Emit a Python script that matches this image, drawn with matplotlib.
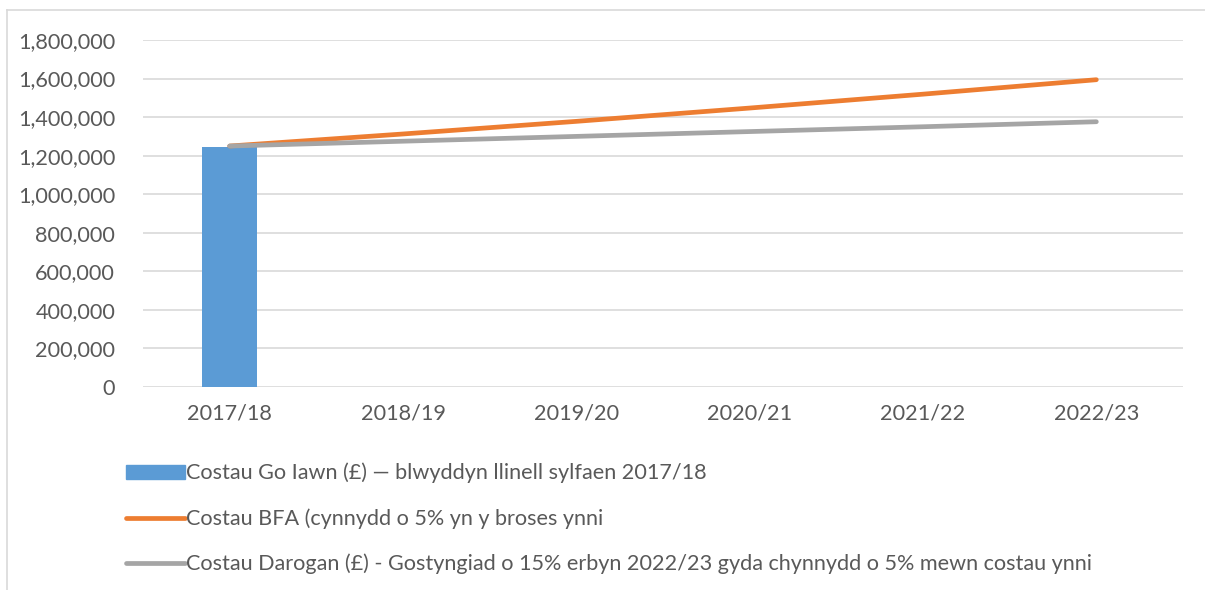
import matplotlib
matplotlib.use("Agg")
import matplotlib.pyplot as plt
from matplotlib.patches import Rectangle
from matplotlib.lines import Line2D
from matplotlib.ticker import FuncFormatter

categories = ["2017/18", "2018/19", "2019/20", "2020/21", "2021/22", "2022/23"]
actual = [1245000]
bfa = [1250000, 1312500, 1378000, 1447000, 1519000, 1594000]
forecast = [1250000, 1275000, 1300000, 1325000, 1350000, 1376000]
yticks = [0, 200000, 400000, 600000, 800000, 1000000, 1200000, 1400000, 1600000, 1800000]
labels = ["Costau Go Iawn (£) — blwyddyn llinell sylfaen 2017/18",
          "Costau BFA (cynnydd o 5% yn y broses ynni",
          "Costau Darogan (£) - Gostyngiad o 15% erbyn 2022/23 gyda chynnydd o 5% mewn costau ynni"]

plt.rcParams['font.family'] = ['Lato', 'DejaVu Sans']
txt = '#595959'
fs = 15.6
W, H = 1205, 590
fig = plt.figure(figsize=(W/100, H/100), dpi=100)
ax = fig.add_axes([143/W, 1-387/H, (1183-143)/W, (387-40)/H])

x = list(range(len(categories)))
ax.bar([0], actual, width=0.32, color='#5B9BD5', zorder=2)
ax.plot(x, bfa, color='#ED7D31', lw=3.4, solid_capstyle='round', zorder=3)
ax.plot(x, forecast, color='#A5A5A5', lw=3.4, solid_capstyle='round', zorder=4)

ax.set_xlim(-0.5, 5.5)
ax.set_ylim(0, 1800000)
ax.set_yticks(yticks)
ax.yaxis.set_major_formatter(FuncFormatter(lambda v, p: f"{int(v):,}"))
ax.set_xticks(x)
ax.set_xticklabels(categories)
ax.grid(axis='y', color='#D9D9D9', lw=1.2, zorder=0)
for s in ax.spines.values():
    s.set_visible(False)
ax.tick_params(axis='both', length=0, labelsize=fs, colors=txt)
ax.tick_params(axis='x', pad=12)
ax.tick_params(axis='y', pad=20)

# legend
handles = [Rectangle((0, 0), 1, 1, color='#5B9BD5'),
           Line2D([], [], color='#ED7D31', lw=3.4, solid_capstyle='round'),
           Line2D([], [], color='#A5A5A5', lw=3.4, solid_capstyle='round')]
leg = fig.legend(handles, labels, loc='upper left', bbox_to_anchor=(115/W, 1-452/H),
                 frameon=False, fontsize=fs, labelcolor=txt, handlelength=2.75,
                 handleheight=0.65, handletextpad=0.05, labelspacing=1.15, borderpad=0)

fig.add_artist(Line2D([7/W, 7/W], [0, 1-10/H], transform=fig.transFigure, color='#D9D9D9', lw=1.2))
fig.add_artist(Line2D([7/W, 1], [1-10/H, 1-10/H], transform=fig.transFigure, color='#D9D9D9', lw=1.2))
fig.savefig("out.png", dpi=100)
